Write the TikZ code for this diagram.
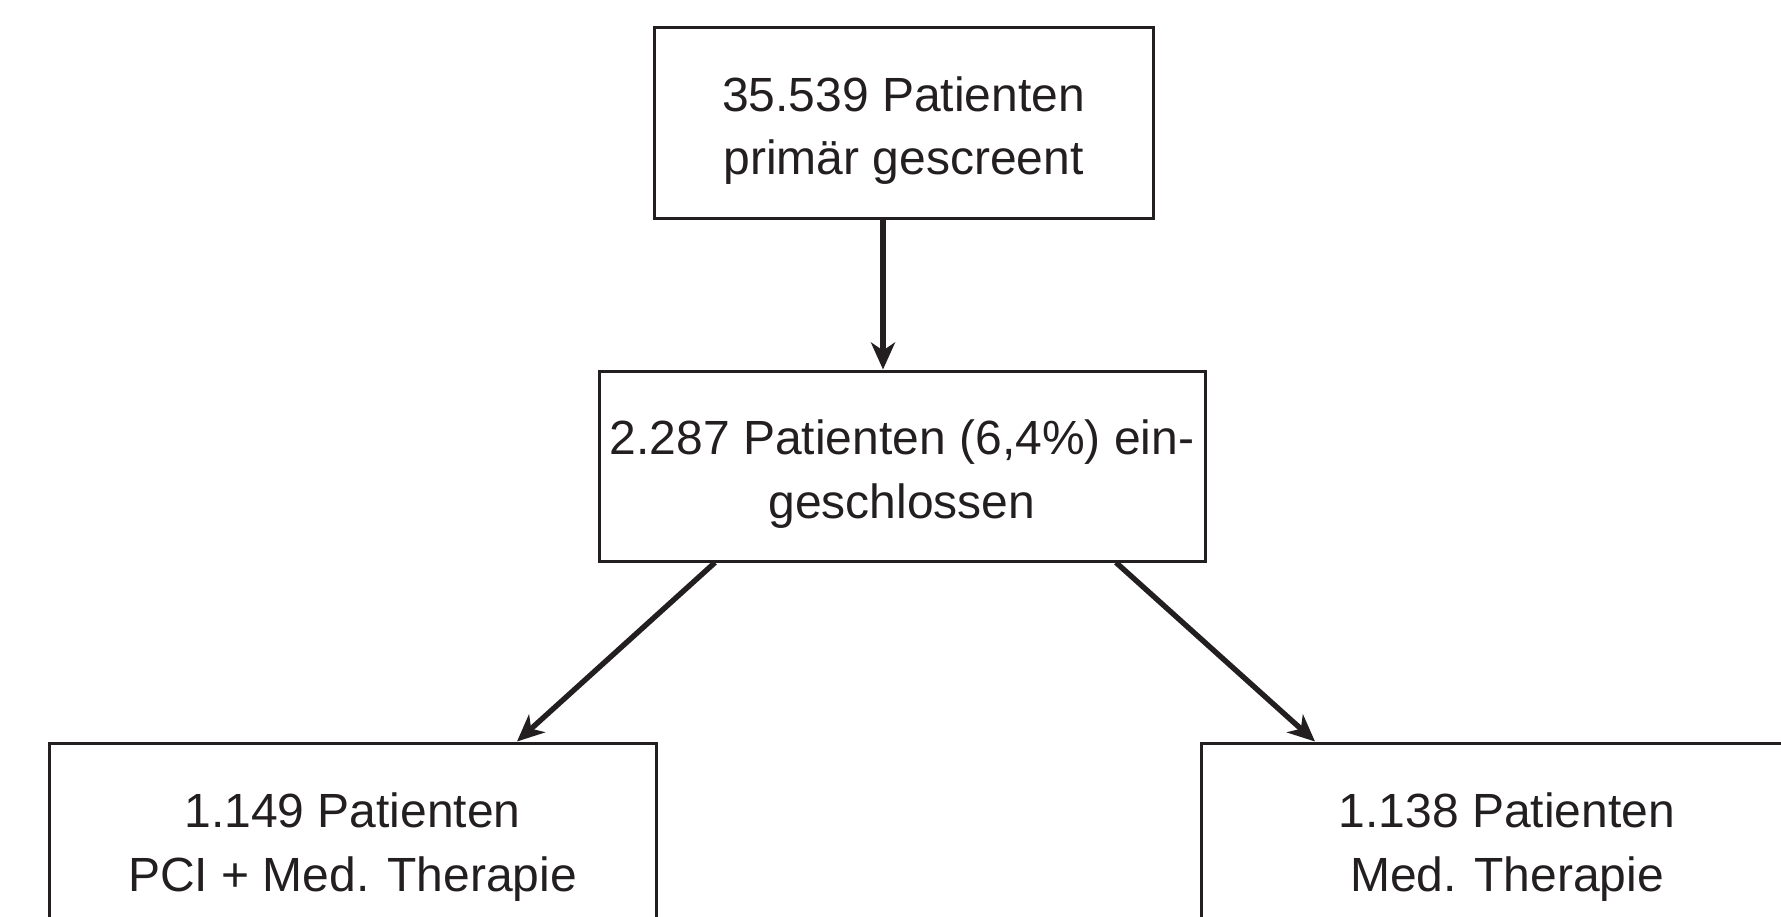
\documentclass[tikz,border=0pt]{standalone}
\usepackage{fontspec}
\setmainfont{Liberation Sans}
\usetikzlibrary{arrows.meta}
\definecolor{ink}{HTML}{231F20}
\begin{document}
\begin{tikzpicture}[x=1pt,y=-1pt,
  box/.style={draw=ink, line width=3pt, rectangle, inner sep=0pt, align=center,
    text=ink, text height=114pt, font=\fontsize{48}{63.5}\selectfont},
  conn/.style={draw=ink, line width=5.4pt, -{Stealth[length=27pt,width=24pt,inset=8pt]}}]
\useasboundingbox (0,0) rectangle (1781,916);
\begin{scope}
\clip (0,0) rectangle (1781,916);
\node[box, minimum width=499pt, minimum height=191pt] (top) at (903.5,122.5)
  {35.539 Patienten\\primär gescreent};
\node[box, minimum width=606pt, minimum height=190pt] (mid) at (902,466)
  {2.287 Patienten (6,4\%) ein-\\geschlossen};
\node[box, minimum width=607pt, minimum height=192pt] (left) at (352.5,839)
  {1.149 Patienten\\PCI + Med. Therapie};
\node[box, minimum width=612pt, minimum height=192pt] (right) at (1507,839)
  {1.138 Patienten\\Med. Therapie};
\end{scope}
\coordinate (a1s) at (top.south -| 883,0);
\coordinate (a1e) at (mid.north -| 883,0);
\coordinate (a2s) at (mid.south -| 715,0);
\coordinate (a2e) at (left.north -| 517,0);
\coordinate (a3s) at (mid.south -| 1116,0);
\coordinate (a3e) at (right.north -| 1315,0);
\draw[conn] (a1s) -- (a1e);
\draw[conn] (a2s) -- (a2e);
\draw[conn] (a3s) -- (a3e);
\end{tikzpicture}
\end{document}
